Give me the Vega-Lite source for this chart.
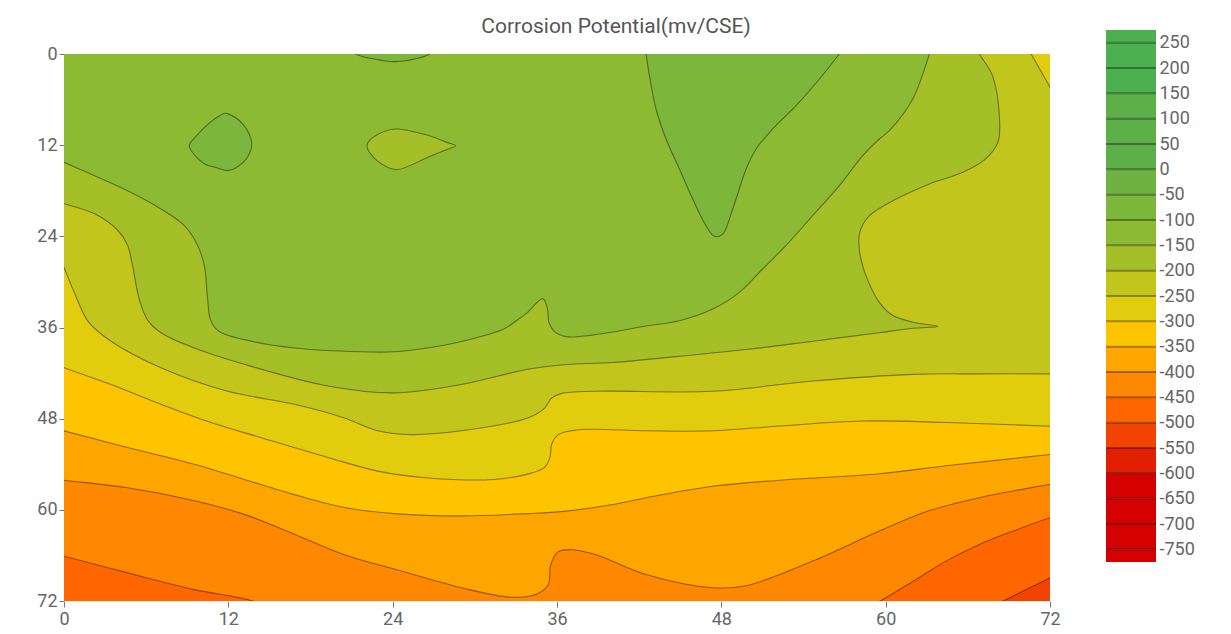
{
  "$schema": "https://vega.github.io/schema/vega-lite/v6.json",
  "padding": {"left": 36, "top": 16, "right": 4, "bottom": 4},
  "config": {"font": "Roboto", "view": {"stroke": null}, "axis": {"labelOverlap": false}},
  "spacing": 44,
  "datasets": {
    "cont": [
      {"r":"base","i":1,"x":-4,"y":-4},{"r":"base","i":2,"x":76,"y":-4},{"r":"base","i":3,"x":76,"y":76},{"r":"base","i":4,"x":-4,"y":76},

      {"r":"m500","i":1,"x":66.5,"y":73.8},{"r":"m500","i":2,"x":68.8,"y":71.8},{"r":"m500","i":3,"x":70.5,"y":70.3},{"r":"m500","i":4,"x":72.08,"y":68.9},{"r":"m500","i":5,"x":73.6,"y":67.6},{"r":"m500","i":6,"x":76,"y":66},{"r":"m500","i":7,"x":76,"y":-4},{"r":"m500","i":8,"x":-4,"y":-4},{"r":"m500","i":9,"x":-4,"y":76},{"r":"m500","i":10,"x":66,"y":76},

      {"r":"m450","i":1,"x":-3,"y":64.7},{"r":"m450","i":2,"x":0,"y":66.1},{"r":"m450","i":3,"x":4.65,"y":68.3},{"r":"m450","i":4,"x":9.52,"y":70.5},{"r":"m450","i":5,"x":13.4,"y":71.8},{"r":"m450","i":6,"x":15.3,"y":73},{"r":"m450","i":7,"x":17,"y":74.5},{"r":"m450","i":8,"x":57,"y":74.5},{"r":"m450","i":9,"x":58.6,"y":73},{"r":"m450","i":10,"x":59.79,"y":71.8},{"r":"m450","i":11,"x":62.2,"y":69.2},{"r":"m450","i":12,"x":64.4,"y":66.75},{"r":"m450","i":13,"x":66.85,"y":64.55},{"r":"m450","i":14,"x":69.3,"y":62.8},{"r":"m450","i":15,"x":72.08,"y":61.0},{"r":"m450","i":16,"x":74,"y":60},{"r":"m450","i":17,"x":76,"y":59},{"r":"m450","i":18,"x":76,"y":-4},{"r":"m450","i":19,"x":-4,"y":-4},

      {"r":"m400","i":1,"x":-3,"y":55.45},{"r":"m400","i":2,"x":0,"y":56.1},{"r":"m400","i":3,"x":4.65,"y":57.1},{"r":"m400","i":4,"x":9.52,"y":58.8},{"r":"m400","i":5,"x":13.17,"y":60.6},{"r":"m400","i":6,"x":16.82,"y":63.2},{"r":"m400","i":7,"x":20.47,"y":65.9},{"r":"m400","i":8,"x":24.12,"y":67.8},{"r":"m400","i":9,"x":29.0,"y":70.25},{"r":"m400","i":10,"x":32.64,"y":71.5},{"r":"m400","i":11,"x":34.5,"y":71.1},{"r":"m400","i":12,"x":35.35,"y":69.9},{"r":"m400","i":13,"x":35.55,"y":67.2},{"r":"m400","i":14,"x":36.1,"y":65.5},{"r":"m400","i":15,"x":37.15,"y":65.25},{"r":"m400","i":16,"x":38.85,"y":65.9},{"r":"m400","i":17,"x":42.5,"y":68.5},{"r":"m400","i":18,"x":47.37,"y":70.25},{"r":"m400","i":19,"x":49.8,"y":70.0},{"r":"m400","i":20,"x":54.67,"y":66.75},{"r":"m400","i":21,"x":59.54,"y":62.8},{"r":"m400","i":22,"x":63.2,"y":60.1},{"r":"m400","i":23,"x":66.85,"y":58.4},{"r":"m400","i":24,"x":72.08,"y":56.6},{"r":"m400","i":25,"x":76,"y":55.3},{"r":"m400","i":26,"x":76,"y":-4},{"r":"m400","i":27,"x":-4,"y":-4},

      {"r":"m350","i":1,"x":-3,"y":48.2},{"r":"m350","i":2,"x":0,"y":49.6},{"r":"m350","i":3,"x":4.65,"y":51.8},{"r":"m350","i":4,"x":9.52,"y":54.0},{"r":"m350","i":5,"x":13.17,"y":56.0},{"r":"m350","i":6,"x":16.82,"y":58.0},{"r":"m350","i":7,"x":20.47,"y":59.7},{"r":"m350","i":8,"x":24.12,"y":60.5},{"r":"m350","i":9,"x":29.0,"y":60.8},{"r":"m350","i":10,"x":33.86,"y":60.5},{"r":"m350","i":11,"x":36.5,"y":60.2},{"r":"m350","i":12,"x":40.07,"y":59.3},{"r":"m350","i":13,"x":42.5,"y":58.4},{"r":"m350","i":14,"x":47.37,"y":56.9},{"r":"m350","i":15,"x":52.24,"y":56.1},{"r":"m350","i":16,"x":59.54,"y":55.25},{"r":"m350","i":17,"x":64.4,"y":54.2},{"r":"m350","i":18,"x":72.08,"y":52.7},{"r":"m350","i":19,"x":76,"y":51.9},{"r":"m350","i":20,"x":76,"y":-4},{"r":"m350","i":21,"x":-4,"y":-4},

      {"r":"m300","i":1,"x":-3,"y":39.4},{"r":"m300","i":2,"x":0,"y":41.3},{"r":"m300","i":3,"x":3.43,"y":43.5},{"r":"m300","i":4,"x":7.08,"y":46.1},{"r":"m300","i":5,"x":10.73,"y":48.5},{"r":"m300","i":6,"x":14.39,"y":50.5},{"r":"m300","i":7,"x":19.26,"y":53.1},{"r":"m300","i":8,"x":22.9,"y":54.9},{"r":"m300","i":9,"x":26.56,"y":55.8},{"r":"m300","i":10,"x":31.4,"y":56.0},{"r":"m300","i":11,"x":33.86,"y":55.3},{"r":"m300","i":12,"x":35.1,"y":54.4},{"r":"m300","i":13,"x":35.5,"y":53.0},{"r":"m300","i":14,"x":35.6,"y":51.4},{"r":"m300","i":15,"x":36.1,"y":50.1},{"r":"m300","i":16,"x":37.63,"y":49.45},{"r":"m300","i":17,"x":42.5,"y":49.6},{"r":"m300","i":18,"x":47.37,"y":49.6},{"r":"m300","i":19,"x":52.24,"y":48.97},{"r":"m300","i":20,"x":58.33,"y":48.3},{"r":"m300","i":21,"x":64.4,"y":48.5},{"r":"m300","i":22,"x":72.08,"y":49.0},{"r":"m300","i":23,"x":76,"y":49.3},{"r":"m300","i":24,"x":76,"y":-4},{"r":"m300","i":25,"x":-4,"y":-4},

      {"r":"m250","i":1,"x":-4,"y":21},{"r":"m250","i":2,"x":-0.8,"y":24.8},{"r":"m250","i":3,"x":0,"y":28.1},{"r":"m250","i":4,"x":0.75,"y":31.4},{"r":"m250","i":5,"x":1.8,"y":35.3},{"r":"m250","i":6,"x":3.43,"y":37.8},{"r":"m250","i":7,"x":7.08,"y":41.3},{"r":"m250","i":8,"x":11.95,"y":44.4},{"r":"m250","i":9,"x":16.82,"y":46.1},{"r":"m250","i":10,"x":20.47,"y":47.9},{"r":"m250","i":11,"x":22.9,"y":49.6},{"r":"m250","i":12,"x":25.34,"y":50.1},{"r":"m250","i":13,"x":28.99,"y":49.6},{"r":"m250","i":14,"x":33.86,"y":47.9},{"r":"m250","i":15,"x":35.1,"y":46.6},{"r":"m250","i":16,"x":35.6,"y":45.3},{"r":"m250","i":17,"x":36.3,"y":44.7},{"r":"m250","i":18,"x":38.85,"y":44.4},{"r":"m250","i":19,"x":47.37,"y":44.4},{"r":"m250","i":20,"x":54.67,"y":43.05},{"r":"m250","i":21,"x":61.98,"y":42.17},{"r":"m250","i":22,"x":66.85,"y":42.1},{"r":"m250","i":23,"x":72.08,"y":42.1},{"r":"m250","i":24,"x":75,"y":42.1},{"r":"m250","i":25,"x":76,"y":25},{"r":"m250","i":26,"x":75,"y":9.5},{"r":"m250","i":27,"x":72.9,"y":7.1},{"r":"m250","i":28,"x":72.08,"y":4.6},{"r":"m250","i":29,"x":71.35,"y":2.3},{"r":"m250","i":30,"x":70.62,"y":0},{"r":"m250","i":31,"x":70.0,"y":-1.9},{"r":"m250","i":32,"x":69,"y":-4},{"r":"m250","i":33,"x":-4,"y":-4},

      {"r":"m200","i":1,"x":-3,"y":18.2},{"r":"m200","i":2,"x":0,"y":19.7},{"r":"m200","i":3,"x":2.2,"y":21.0},{"r":"m200","i":4,"x":3.92,"y":23.2},{"r":"m200","i":5,"x":4.65,"y":25.2},{"r":"m200","i":6,"x":5.01,"y":27.9},{"r":"m200","i":7,"x":5.5,"y":32.3},{"r":"m200","i":8,"x":6.1,"y":35.0},{"r":"m200","i":9,"x":7.08,"y":36.7},{"r":"m200","i":10,"x":9.52,"y":38.7},{"r":"m200","i":11,"x":13.17,"y":40.85},{"r":"m200","i":12,"x":19.26,"y":43.7},{"r":"m200","i":13,"x":24.12,"y":44.6},{"r":"m200","i":14,"x":29.0,"y":43.5},{"r":"m200","i":15,"x":33.86,"y":41.5},{"r":"m200","i":16,"x":36.5,"y":40.9},{"r":"m200","i":17,"x":40.07,"y":40.6},{"r":"m200","i":18,"x":44.9,"y":39.8},{"r":"m200","i":19,"x":49.8,"y":38.9},{"r":"m200","i":20,"x":54.7,"y":37.8},{"r":"m200","i":21,"x":59.5,"y":36.7},{"r":"m200","i":22,"x":62.0,"y":36.1},{"r":"m200","i":23,"x":63.8,"y":35.85},{"r":"m200","i":24,"x":62.0,"y":35.3},{"r":"m200","i":25,"x":60.5,"y":34.4},{"r":"m200","i":26,"x":59.54,"y":32.7},{"r":"m200","i":27,"x":58.57,"y":29.2},{"r":"m200","i":28,"x":58.1,"y":26.1},{"r":"m200","i":29,"x":58.1,"y":23.5},{"r":"m200","i":30,"x":58.8,"y":21.3},{"r":"m200","i":31,"x":60.76,"y":19.1},{"r":"m200","i":32,"x":63.2,"y":17.1},{"r":"m200","i":33,"x":65.6,"y":15.6},{"r":"m200","i":34,"x":67.3,"y":13.8},{"r":"m200","i":35,"x":68.2,"y":11.6},{"r":"m200","i":36,"x":68.3,"y":8.1},{"r":"m200","i":37,"x":67.8,"y":2.85},{"r":"m200","i":38,"x":66.85,"y":0},{"r":"m200","i":39,"x":66.3,"y":-2},{"r":"m200","i":40,"x":65.5,"y":-4},{"r":"m200","i":41,"x":-4,"y":-4},

      {"r":"m150","i":1,"x":-3,"y":11.9},{"r":"m150","i":2,"x":0,"y":14.26},{"r":"m150","i":3,"x":2.2,"y":16.0},{"r":"m150","i":4,"x":4.65,"y":18.0},{"r":"m150","i":5,"x":7.08,"y":20.4},{"r":"m150","i":6,"x":8.79,"y":22.6},{"r":"m150","i":7,"x":9.76,"y":25.2},{"r":"m150","i":8,"x":10.25,"y":27.9},{"r":"m150","i":9,"x":10.49,"y":32.3},{"r":"m150","i":10,"x":10.7,"y":35.0},{"r":"m150","i":11,"x":11.3,"y":36.5},{"r":"m150","i":12,"x":13.17,"y":37.6},{"r":"m150","i":13,"x":16.82,"y":38.7},{"r":"m150","i":14,"x":21.69,"y":39.2},{"r":"m150","i":15,"x":24.12,"y":39.2},{"r":"m150","i":16,"x":26.56,"y":38.7},{"r":"m150","i":17,"x":29.0,"y":37.85},{"r":"m150","i":18,"x":32.16,"y":36.15},{"r":"m150","i":19,"x":33.0,"y":35.15},{"r":"m150","i":20,"x":33.86,"y":34.0},{"r":"m150","i":21,"x":34.96,"y":32.2},{"r":"m150","i":22,"x":35.3,"y":33.5},{"r":"m150","i":23,"x":35.4,"y":35.3},{"r":"m150","i":24,"x":35.8,"y":36.5},{"r":"m150","i":25,"x":36.66,"y":37.2},{"r":"m150","i":26,"x":37.6,"y":37.2},{"r":"m150","i":27,"x":40.07,"y":36.6},{"r":"m150","i":28,"x":42.5,"y":35.8},{"r":"m150","i":29,"x":44.94,"y":35.1},{"r":"m150","i":30,"x":47.37,"y":33.57},{"r":"m150","i":31,"x":49.32,"y":31.37},{"r":"m150","i":32,"x":51.02,"y":28.3},{"r":"m150","i":33,"x":52.73,"y":25.2},{"r":"m150","i":34,"x":54.67,"y":21.28},{"r":"m150","i":35,"x":56.62,"y":17.33},{"r":"m150","i":36,"x":58.33,"y":13.38},{"r":"m150","i":37,"x":59.54,"y":11.19},{"r":"m150","i":38,"x":60.27,"y":10.09},{"r":"m150","i":39,"x":61.98,"y":5.92},{"r":"m150","i":40,"x":63.2,"y":0},{"r":"m150","i":41,"x":63.6,"y":-2},{"r":"m150","i":42,"x":64,"y":-4},{"r":"m150","i":43,"x":-4,"y":-4},

      {"r":"hole","i":1,"x":22.13,"y":12.07},{"r":"hole","i":2,"x":22.9,"y":10.6},{"r":"hole","i":3,"x":24.37,"y":9.87},{"r":"hole","i":4,"x":26.56,"y":10.7},{"r":"hole","i":5,"x":27.9,"y":11.6},{"r":"hole","i":6,"x":28.6,"y":12.07},{"r":"hole","i":7,"x":27.9,"y":12.6},{"r":"hole","i":8,"x":26.56,"y":13.6},{"r":"hole","i":9,"x":24.37,"y":15.2},{"r":"hole","i":10,"x":22.9,"y":14.1},

      {"r":"a","i":1,"x":11.95,"y":7.85},{"r":"a","i":2,"x":13.05,"y":9.2},{"r":"a","i":3,"x":13.7,"y":11.6},{"r":"a","i":4,"x":13.4,"y":13.6},{"r":"a","i":5,"x":12.6,"y":14.95},{"r":"a","i":6,"x":11.95,"y":15.35},{"r":"a","i":7,"x":11.2,"y":15.0},{"r":"a","i":8,"x":10.25,"y":14.45},{"r":"a","i":9,"x":9.4,"y":13.0},{"r":"a","i":10,"x":9.15,"y":12.0},{"r":"a","i":11,"x":9.6,"y":10.9},{"r":"a","i":12,"x":10.6,"y":9.1},{"r":"a","i":13,"x":11.4,"y":8.1},

      {"r":"b","i":1,"x":20.3,"y":-2},{"r":"b","i":2,"x":21.32,"y":0},{"r":"b","i":3,"x":22.66,"y":0.66},{"r":"b","i":4,"x":24.1,"y":1.0},{"r":"b","i":5,"x":25.6,"y":0.66},{"r":"b","i":6,"x":26.7,"y":0},{"r":"b","i":7,"x":27.7,"y":-2},

      {"r":"c","i":1,"x":42.3,"y":-2},{"r":"c","i":2,"x":42.5,"y":0},{"r":"c","i":3,"x":42.75,"y":2.85},{"r":"c","i":4,"x":43.23,"y":7.24},{"r":"c","i":5,"x":43.96,"y":11.19},{"r":"c","i":6,"x":44.94,"y":15.14},{"r":"c","i":7,"x":45.91,"y":19.09},{"r":"c","i":8,"x":46.88,"y":22.6},{"r":"c","i":9,"x":47.49,"y":24.0},{"r":"c","i":10,"x":48.1,"y":23.7},{"r":"c","i":11,"x":48.83,"y":20.4},{"r":"c","i":12,"x":49.81,"y":15.14},{"r":"c","i":13,"x":50.54,"y":12.5},{"r":"c","i":14,"x":51.75,"y":9.87},{"r":"c","i":15,"x":53.46,"y":6.8},{"r":"c","i":16,"x":55.16,"y":3.29},{"r":"c","i":17,"x":56.62,"y":0},{"r":"c","i":18,"x":57.5,"y":-2}
    ],
    "bands": [
      {"lo":250,"hi":275},{"lo":200,"hi":250},{"lo":150,"hi":200},{"lo":100,"hi":150},{"lo":50,"hi":100},{"lo":0,"hi":50},{"lo":-50,"hi":0},{"lo":-100,"hi":-50},{"lo":-150,"hi":-100},{"lo":-200,"hi":-150},{"lo":-250,"hi":-200},{"lo":-300,"hi":-250},{"lo":-350,"hi":-300},{"lo":-400,"hi":-350},{"lo":-450,"hi":-400},{"lo":-500,"hi":-450},{"lo":-550,"hi":-500},{"lo":-600,"hi":-550},{"lo":-650,"hi":-600},{"lo":-700,"hi":-650},{"lo":-750,"hi":-700},{"lo":-775,"hi":-750}
    ],
    "levels": [
      {"v":250},{"v":200},{"v":150},{"v":100},{"v":50},{"v":0},{"v":-50},{"v":-100},{"v":-150},{"v":-200},{"v":-250},{"v":-300},{"v":-350},{"v":-400},{"v":-450},{"v":-500},{"v":-550},{"v":-600},{"v":-650},{"v":-700},{"v":-750}
    ]
  },
  "hconcat": [
    {
      "bounds": "flush",
      "spacing": 0,
      "vconcat": [
        {
          "width": 986,
          "height": 24,
          "title": {"text": "Corrosion Potential(mv/CSE)", "fontSize": 21, "fontWeight": "normal", "color": "#555555", "anchor": "middle", "frame": "group", "dx": 59, "offset": -7},
          "data": {"values": []},
          "mark": "point"
        },
        {
          "width": 986,
          "height": 547,
          "data": {"name": "cont"},
          "encoding": {
            "x": {"field": "x", "type": "quantitative", "scale": {"domain": [0, 72], "nice": false, "zero": false},
                  "axis": {"values": [0, 12, 24, 36, 48, 60, 72], "title": null, "grid": false, "labelFontSize": 18, "labelColor": "#666666", "tickColor": "#777777", "tickSize": 6, "domainColor": "#e6e6e6", "labelPadding": 3, "labelFlush": false}},
            "y": {"field": "y", "type": "quantitative", "scale": {"domain": [0, 72], "nice": false, "zero": false, "reverse": true},
                  "axis": {"values": [0, 12, 24, 36, 48, 60, 72], "title": null, "grid": false, "labelFontSize": 18, "labelColor": "#666666", "tickColor": "#777777", "tickSize": 5, "domainColor": "#e6e6e6", "labelPadding": 2, "labelFlush": false}},
            "order": {"field": "i", "type": "quantitative"}
          },
          "layer": [
            {"transform": [{"filter": "datum.r === 'base'"}], "mark": {"type": "line", "filled": true, "fill": "#F04400", "strokeOpacity": 0, "interpolate": "linear", "clip": true}},
            {"transform": [{"filter": "datum.r === 'm500'"}], "mark": {"type": "line", "filled": true, "fill": "#FF6600", "stroke": "#000000", "strokeOpacity": 0.42, "strokeWidth": 1.1, "interpolate": "catmull-rom", "clip": true}},
            {"transform": [{"filter": "datum.r === 'm450'"}], "mark": {"type": "line", "filled": true, "fill": "#FF8800", "stroke": "#000000", "strokeOpacity": 0.42, "strokeWidth": 1.1, "interpolate": "catmull-rom", "clip": true}},
            {"transform": [{"filter": "datum.r === 'm400'"}], "mark": {"type": "line", "filled": true, "fill": "#FFA500", "stroke": "#000000", "strokeOpacity": 0.42, "strokeWidth": 1.1, "interpolate": "catmull-rom", "clip": true}},
            {"transform": [{"filter": "datum.r === 'm350'"}], "mark": {"type": "line", "filled": true, "fill": "#FFC400", "stroke": "#000000", "strokeOpacity": 0.42, "strokeWidth": 1.1, "interpolate": "catmull-rom", "clip": true}},
            {"transform": [{"filter": "datum.r === 'm300'"}], "mark": {"type": "line", "filled": true, "fill": "#E1CC0E", "stroke": "#000000", "strokeOpacity": 0.42, "strokeWidth": 1.1, "interpolate": "catmull-rom", "clip": true}},
            {"transform": [{"filter": "datum.r === 'm250'"}], "mark": {"type": "line", "filled": true, "fill": "#C2C51C", "stroke": "#000000", "strokeOpacity": 0.42, "strokeWidth": 1.1, "interpolate": "catmull-rom", "clip": true}},
            {"transform": [{"filter": "datum.r === 'm200'"}], "mark": {"type": "line", "filled": true, "fill": "#A5BF29", "stroke": "#000000", "strokeOpacity": 0.42, "strokeWidth": 1.1, "interpolate": "catmull-rom", "clip": true}},
            {"transform": [{"filter": "datum.r === 'm150'"}], "mark": {"type": "line", "filled": true, "fill": "#8CBA33", "stroke": "#000000", "strokeOpacity": 0.42, "strokeWidth": 1.1, "interpolate": "catmull-rom", "clip": true}},
            {"transform": [{"filter": "datum.r === 'hole'"}], "mark": {"type": "line", "filled": true, "fill": "#A5BF29", "stroke": "#000000", "strokeOpacity": 0.42, "strokeWidth": 1.1, "interpolate": "cardinal-closed", "tension": 0, "clip": true}},
            {"transform": [{"filter": "datum.r === 'a'"}], "mark": {"type": "line", "filled": true, "fill": "#7CB63A", "stroke": "#000000", "strokeOpacity": 0.42, "strokeWidth": 1.1, "interpolate": "cardinal-closed", "tension": 0, "clip": true}},
            {"transform": [{"filter": "datum.r === 'b'"}], "mark": {"type": "line", "filled": true, "fill": "#7CB63A", "stroke": "#000000", "strokeOpacity": 0.42, "strokeWidth": 1.1, "interpolate": "catmull-rom", "clip": true}},
            {"transform": [{"filter": "datum.r === 'c'"}], "mark": {"type": "line", "filled": true, "fill": "#7CB63A", "stroke": "#000000", "strokeOpacity": 0.42, "strokeWidth": 1.1, "interpolate": "catmull-rom", "clip": true}}
          ]
        }
      ]
    },
    {
      "width": 50,
      "height": 532,
      "layer": [
        {
          "data": {"name": "bands"},
          "mark": {"type": "rect"},
          "encoding": {
            "y": {"field": "lo", "type": "quantitative", "scale": {"domain": [-775, 275], "nice": false, "zero": false},
                  "axis": {"orient": "right", "values": [250, 200, 150, 100, 50, 0, -50, -100, -150, -200, -250, -300, -350, -400, -450, -500, -550, -600, -650, -700, -750], "labelExpr": "'' + datum.value", "labelOverlap": false, "labelSeparation": 0, "title": null, "grid": false, "ticks": false, "domain": false, "labelFontSize": 18, "labelColor": "#666666", "labelPadding": 3, "labelFlush": false}},
            "y2": {"field": "hi"},
            "color": {"field": "lo", "type": "ordinal", "legend": null,
                      "scale": {"domain": [250, 200, 150, 100, 50, 0, -50, -100, -150, -200, -250, -300, -350, -400, -450, -500, -550, -600, -650, -700, -750, -775],
                                "range": ["#4CAF50", "#4CAF50", "#4CAF50", "#5DAF47", "#5DAF47", "#5DAF47", "#6EB241", "#7CB63A", "#8CBA33", "#A5BF29", "#C2C51C", "#E1CC0E", "#FFC400", "#FFA500", "#FF8800", "#FF6600", "#F04400", "#E02000", "#D50000", "#D50000", "#D50000", "#D50000"]}}
          }
        },
        {
          "data": {"name": "levels"},
          "mark": {"type": "rule", "stroke": "#000000", "strokeOpacity": 0.35, "strokeWidth": 2},
          "encoding": {"y": {"field": "v", "type": "quantitative",
                  "axis": {"orient": "right", "values": [250, 200, 150, 100, 50, 0, -50, -100, -150, -200, -250, -300, -350, -400, -450, -500, -550, -600, -650, -700, -750], "labelExpr": "'' + datum.value", "labelOverlap": false, "labelSeparation": 0, "title": null, "grid": false, "ticks": false, "domain": false, "labelFontSize": 18, "labelColor": "#666666", "labelPadding": 3, "labelFlush": false}}}
        }
      ]
    }
  ]
}
